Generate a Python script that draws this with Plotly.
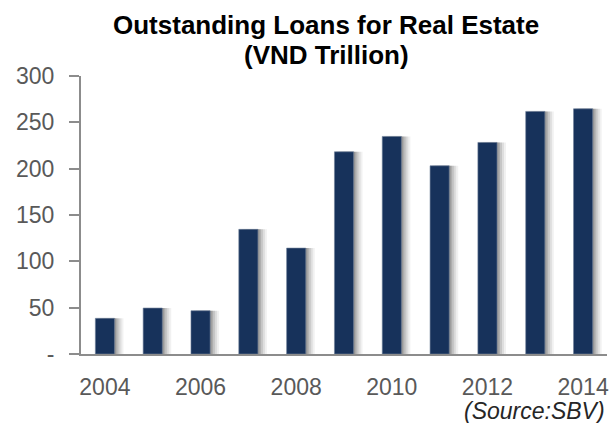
import plotly.graph_objects as go

# Outstanding real-estate loans, VND trillion
years = [2004, 2005, 2006, 2007, 2008, 2009, 2010, 2011, 2012, 2013, 2014]
loans = [38.5, 49.6, 46.7, 134.5, 114.3, 218.2, 234.8, 203.1, 228.3, 261.8, 264.6]

y_ticks = [0, 50, 100, 150, 200, 250, 300]
y_tick_text = ["-", "50", "100", "150", "200", "250", "300"]
x_ticks = [2004, 2006, 2008, 2010, 2012, 2014]

BAR_COLOR = "#17325b"
BAR_WIDTH = 0.4
PX_PER_CAT = 48.0  # approx pixel width of one category

fig = go.Figure()

# soft drop shadow: a few translucent grey bars shifted to the right
for shift_px, alpha in [(9, 0.07), (7, 0.1), (5, 0.14), (3, 0.18), (1.5, 0.2)]:
    fig.add_trace(go.Bar(
        x=years, y=loans,
        width=BAR_WIDTH,
        offset=-BAR_WIDTH / 2 + shift_px / PX_PER_CAT,
        marker=dict(color=f"rgba(60,60,60,{alpha})", line=dict(width=0)),
        hoverinfo="skip", showlegend=False,
    ))

fig.add_trace(go.Bar(
    x=years, y=loans,
    width=BAR_WIDTH,
    offset=-BAR_WIDTH / 2,
    marker=dict(color=BAR_COLOR, line=dict(color="#6f7f99", width=0.6)),
    showlegend=False,
))

TITLE_FONT = dict(family="Liberation Sans, Arial, sans-serif", size=26, color="black")

fig.update_layout(
    width=611, height=423,
    margin=dict(l=81, r=2, t=76, b=69),
    paper_bgcolor="white", plot_bgcolor="white",
    barmode="overlay",
    font=dict(family="Liberation Sans, Arial, sans-serif", color="#595959", size=23),
    xaxis=dict(
        range=[2003.5, 2014.5],
        tickmode="array", tickvals=x_ticks,
        showline=True, linecolor="#8c8c8c", linewidth=2,
        ticks="", showgrid=False, zeroline=False,
        ticklabelstandoff=11,
    ),
    yaxis=dict(
        range=[0, 300],
        tickmode="array", tickvals=y_ticks, ticktext=y_tick_text,
        showline=True, linecolor="#8c8c8c", linewidth=2,
        ticks="outside", ticklen=10, tickwidth=2, tickcolor="#8c8c8c",
        showgrid=False, zeroline=False,
        ticklabelstandoff=10,
    ),
    annotations=[
        dict(text="<b>Outstanding Loans for Real Estate</b>",
             xref="paper", yref="paper", x=0.466, y=1.183,
             xanchor="center", yanchor="middle", showarrow=False, font=TITLE_FONT),
        dict(text="<b>(VND Trillion)</b>",
             xref="paper", yref="paper", x=0.466, y=1.076,
             xanchor="center", yanchor="middle", showarrow=False, font=TITLE_FONT),
        dict(text="<i>(Source:SBV)</i>",
             xref="paper", yref="paper", x=1.0, y=-0.152,
             xanchor="right", yanchor="top", showarrow=False,
             font=dict(family="Liberation Sans, Arial, sans-serif", size=23, color="#262626")),
    ],
)

fig.write_html("out.html")
